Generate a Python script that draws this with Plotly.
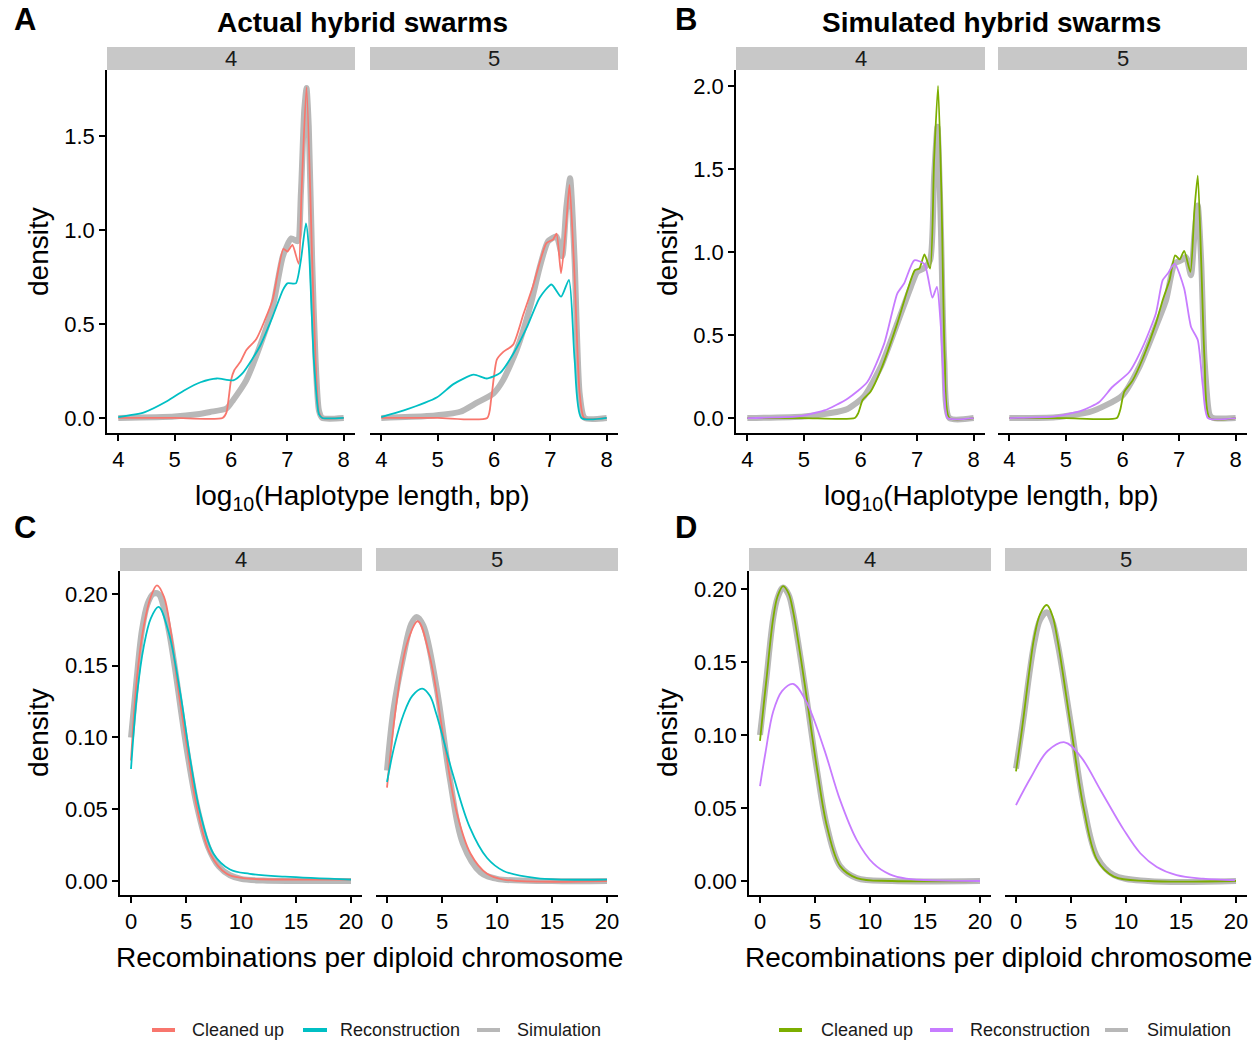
import plotly.graph_objects as go

W, H = 1255, 1042
FONT = "Liberation Sans, Arial, Helvetica, sans-serif"
RED, CYAN, GREEN, PURPLE, GREY = "#F8766D", "#00BFC4", "#7CAE00", "#C77CFF", "#b8b8b8"

# ---------------- Data: panel A (actual, haplotype length) ----------------
A4_sim_x = [4.0, 5.0, 5.4, 5.63, 5.92, 6.04, 6.27, 6.51, 6.74, 6.92, 7.07, 7.18, 7.24, 7.30, 7.34, 7.38, 7.44, 7.50, 7.56, 7.62, 8.0]
A4_sim_y = [0.0, 0.008, 0.02, 0.032, 0.05, 0.096, 0.20, 0.38, 0.59, 0.86, 0.955, 0.94, 1.195, 1.64, 1.755, 1.55, 0.84, 0.31, 0.04, 0.0, 0.0]
A4_clean_x = [4.0, 5.0, 5.85, 5.92, 6.0, 6.06, 6.17, 6.27, 6.45, 6.6, 6.74, 6.93, 7.0, 7.09, 7.2, 7.25, 7.34, 7.44, 7.5, 7.56, 7.62, 8.0]
A4_clean_y = [0.0, 0.0, 0.0, 0.03, 0.2, 0.255, 0.30, 0.36, 0.42, 0.52, 0.63, 0.90, 0.885, 0.92, 0.82, 1.19, 1.76, 0.84, 0.3, 0.03, 0.0, 0.0]
A4_recon_x = [4.0, 4.46, 4.87, 5.16, 5.46, 5.75, 6.04, 6.21, 6.51, 6.74, 6.92, 7.0, 7.15, 7.24, 7.33, 7.38, 7.47, 7.56, 7.62, 8.0]
A4_recon_y = [0.005, 0.03, 0.09, 0.145, 0.19, 0.21, 0.20, 0.24, 0.38, 0.54, 0.68, 0.716, 0.716, 0.84, 1.035, 0.91, 0.31, 0.02, 0.0, 0.0]

A5_sim_x = [4.0, 4.81, 5.4, 5.69, 5.99, 6.16, 6.4, 6.64, 6.81, 6.96, 7.11, 7.21, 7.28, 7.35, 7.43, 7.52, 7.61, 8.0]
A5_sim_y = [0.0, 0.01, 0.033, 0.08, 0.13, 0.20, 0.36, 0.59, 0.80, 0.94, 0.965, 0.86, 1.11, 1.275, 0.84, 0.13, 0.0, 0.0]
A5_clean_x = [4.0, 5.0, 5.88, 5.95, 6.05, 6.16, 6.34, 6.52, 6.69, 6.93, 7.05, 7.11, 7.19, 7.28, 7.34, 7.43, 7.52, 7.6, 8.0]
A5_clean_y = [0.0, 0.0, 0.0, 0.1, 0.31, 0.35, 0.39, 0.55, 0.70, 0.93, 0.95, 0.98, 0.77, 1.03, 1.24, 0.75, 0.13, 0.0, 0.0]
A5_recon_x = [4.0, 4.4, 4.99, 5.28, 5.64, 5.87, 6.11, 6.34, 6.58, 6.81, 7.02, 7.19, 7.33, 7.43, 7.55, 8.0]
A5_recon_y = [0.005, 0.04, 0.11, 0.18, 0.23, 0.21, 0.24, 0.34, 0.48, 0.64, 0.71, 0.645, 0.735, 0.31, 0.0, 0.0]

# ---------------- Data: panel B (simulated, haplotype length) ----------------
B4_sim_x = [4.0, 5.0, 5.47, 5.77, 6.06, 6.36, 6.65, 6.89, 7.0, 7.11, 7.23, 7.30, 7.36, 7.42, 7.48, 7.57, 8.0]
B4_sim_y = [0.0, 0.01, 0.03, 0.055, 0.13, 0.31, 0.57, 0.79, 0.88, 0.90, 0.95, 1.45, 1.755, 1.15, 0.35, 0.0, 0.0]
B4_clean_x = [4.0, 5.0, 5.9, 5.96, 6.04, 6.18, 6.36, 6.65, 6.83, 6.96, 7.04, 7.13, 7.23, 7.30, 7.37, 7.43, 7.49, 7.57, 8.0]
B4_clean_y = [0.0, 0.0, 0.0, 0.03, 0.11, 0.16, 0.29, 0.57, 0.77, 0.89, 0.90, 0.985, 0.90, 1.55, 2.0, 1.35, 0.35, 0.0, 0.0]
B4_recon_x = [4.0, 4.88, 5.36, 5.77, 6.12, 6.42, 6.65, 6.77, 6.95, 7.13, 7.27, 7.35, 7.42, 7.48, 7.54, 8.0]
B4_recon_y = [0.0, 0.01, 0.046, 0.117, 0.217, 0.45, 0.75, 0.81, 0.95, 0.927, 0.725, 0.79, 0.55, 0.15, 0.0, 0.0]

B5_sim_x = [4.0, 4.82, 5.41, 5.7, 6.0, 6.3, 6.59, 6.77, 6.92, 7.04, 7.12, 7.21, 7.27, 7.33, 7.39, 7.45, 7.54, 7.6, 8.0]
B5_sim_y = [0.0, 0.005, 0.036, 0.076, 0.137, 0.31, 0.55, 0.71, 0.93, 0.95, 0.97, 0.86, 1.1, 1.28, 0.95, 0.35, 0.02, 0.0, 0.0]
B5_clean_x = [4.0, 5.0, 5.9, 5.96, 6.03, 6.18, 6.36, 6.59, 6.71, 6.83, 6.93, 7.01, 7.09, 7.20, 7.27, 7.33, 7.39, 7.45, 7.54, 8.0]
B5_clean_y = [0.0, 0.0, 0.0, 0.05, 0.157, 0.227, 0.36, 0.57, 0.71, 0.83, 0.98, 0.955, 1.007, 0.88, 1.25, 1.46, 0.95, 0.35, 0.0, 0.0]
B5_recon_x = [4.0, 4.82, 5.29, 5.59, 5.82, 6.12, 6.36, 6.59, 6.71, 6.8, 6.92, 7.09, 7.21, 7.33, 7.42, 7.51, 8.0]
B5_recon_y = [0.0, 0.01, 0.046, 0.097, 0.187, 0.277, 0.43, 0.63, 0.83, 0.87, 0.93, 0.78, 0.55, 0.47, 0.19, 0.0, 0.0]

# ---------------- Data: panel C (actual, recombinations) ----------------
C4_sim_x = [0, 0.5, 1.0, 1.5, 2.0, 2.5, 3.0, 3.5, 4.0, 5.0, 6.0, 7.0, 8.0, 9.0, 10.0, 12.0, 15.0, 20.0]
C4_sim_y = [0.10, 0.14, 0.175, 0.193, 0.20, 0.20, 0.19, 0.172, 0.148, 0.095, 0.052, 0.024, 0.01, 0.004, 0.0015, 0.0003, 0.0, 0.0]
C4_clean_x = [0, 0.55, 1.15, 1.8, 2.36, 3.0, 3.6, 4.18, 5.1, 6.0, 7.2, 8.7, 10.2, 15.0, 20.0]
C4_clean_y = [0.084, 0.142, 0.177, 0.198, 0.206, 0.198, 0.175, 0.14, 0.093, 0.051, 0.019, 0.005, 0.002, 0.001, 0.001]
C4_recon_x = [0, 0.55, 1.15, 1.8, 2.5, 3.4, 4.5, 5.4, 6.3, 7.5, 9.0, 10.8, 14.0, 20.0]
C4_recon_y = [0.078, 0.13, 0.163, 0.183, 0.191, 0.174, 0.13, 0.084, 0.047, 0.019, 0.008, 0.005, 0.003, 0.001]

C5_sim_x = [0, 0.6, 1.5, 2.2, 2.7, 3.3, 4.5, 5.7, 6.9, 8.5, 10.0, 15.0, 20.0]
C5_sim_y = [0.077, 0.12, 0.157, 0.179, 0.184, 0.178, 0.135, 0.072, 0.026, 0.006, 0.0015, 0.0, 0.0]
C5_clean_x = [0, 0.9, 1.8, 2.8, 3.9, 5.1, 6.3, 7.6, 9.1, 10.6, 20.0]
C5_clean_y = [0.065, 0.126, 0.165, 0.181, 0.156, 0.102, 0.049, 0.019, 0.005, 0.001, 0.0]
C5_recon_x = [0, 0.7, 1.5, 2.3, 3.2, 3.9, 4.5, 6.0, 7.55, 9.1, 10.6, 13.6, 20.0]
C5_recon_y = [0.069, 0.095, 0.116, 0.129, 0.134, 0.129, 0.116, 0.074, 0.037, 0.016, 0.007, 0.002, 0.001]

# ---------------- Data: panel D (simulated, recombinations) ----------------
D4_sim_x = [0, 0.3, 0.6, 1.2, 1.6, 2.1, 2.6, 3.0, 3.6, 4.2, 5.2, 6.1, 7.3, 8.8, 12.0, 20.0]
D4_sim_y = [0.10, 0.12, 0.14, 0.18, 0.194, 0.201, 0.196, 0.184, 0.157, 0.127, 0.075, 0.037, 0.01, 0.002, 0.0, 0.0]
D4_clean_x = [0, 0.3, 0.6, 1.2, 1.6, 2.1, 2.6, 3.0, 3.6, 4.2, 5.2, 6.1, 7.3, 8.8, 12.0, 20.0]
D4_clean_y = [0.096, 0.118, 0.139, 0.18, 0.195, 0.202, 0.197, 0.185, 0.158, 0.128, 0.076, 0.037, 0.01, 0.002, 0.0, 0.0]
D4_recon_x = [0, 0.5, 1.2, 2.0, 3.0, 4.2, 5.8, 7.3, 8.8, 10.3, 11.8, 13.3, 20.0]
D4_recon_y = [0.065, 0.088, 0.116, 0.130, 0.135, 0.123, 0.091, 0.055, 0.028, 0.012, 0.0045, 0.0016, 0.0]

D5_sim_x = [0, 0.4, 0.75, 1.2, 1.66, 2.2, 2.8, 3.3, 3.8, 5.0, 6.2, 7.4, 8.9, 12.0, 20.0]
D5_sim_y = [0.077, 0.097, 0.115, 0.141, 0.163, 0.179, 0.184, 0.178, 0.162, 0.107, 0.05, 0.016, 0.004, 0.0, 0.0]
D5_clean_x = [0, 0.4, 0.75, 1.2, 1.66, 2.2, 2.8, 3.3, 3.8, 5.0, 6.2, 7.4, 8.9, 12.0, 20.0]
D5_clean_y = [0.075, 0.096, 0.116, 0.143, 0.167, 0.183, 0.189, 0.182, 0.164, 0.105, 0.048, 0.014, 0.003, 0.0, 0.0]
D5_recon_x = [0, 1.36, 2.87, 4.43, 5.9, 7.7, 9.8, 11.3, 12.8, 14.6, 17.0, 19.9]
D5_recon_y = [0.052, 0.071, 0.089, 0.095, 0.085, 0.062, 0.035, 0.019, 0.0096, 0.004, 0.0016, 0.0005]

facet_labels = ["4", "5"]
legend_labels = ["Cleaned up", "Reconstruction", "Simulation"]
hap_ticks = [4, 5, 6, 7, 8]
rec_ticks = [0, 5, 10, 15, 20]
A_yticks = [0.0, 0.5, 1.0, 1.5]
B_yticks = [0.0, 0.5, 1.0, 1.5, 2.0]
CD_yticks = [0.0, 0.05, 0.10, 0.15, 0.20]

# ---------------- Layout geometry (pixels) ----------------
facets = [
    (107, 355, 70, 433, [3.8, 8.2], [-0.08, 1.851], hap_ticks, A_yticks, "{:.1f}", True,
     (A4_sim_x, A4_sim_y, A4_clean_x, A4_clean_y, A4_recon_x, A4_recon_y), (RED, CYAN), 0.6),
    (370, 618, 70, 433, [3.8, 8.2], [-0.08, 1.851], hap_ticks, A_yticks, "{:.1f}", False,
     (A5_sim_x, A5_sim_y, A5_clean_x, A5_clean_y, A5_recon_x, A5_recon_y), (RED, CYAN), 0.6),
    (736, 985, 70, 433, [3.8, 8.2], [-0.09, 2.096], hap_ticks, B_yticks, "{:.1f}", True,
     (B4_sim_x, B4_sim_y, B4_clean_x, B4_clean_y, B4_recon_x, B4_recon_y), (GREEN, PURPLE), 0.6),
    (998, 1247, 70, 433, [3.8, 8.2], [-0.09, 2.096], hap_ticks, B_yticks, "{:.1f}", False,
     (B5_sim_x, B5_sim_y, B5_clean_x, B5_clean_y, B5_recon_x, B5_recon_y), (GREEN, PURPLE), 0.6),
    (120, 362, 571, 895, [-1, 21], [-0.00976, 0.216], rec_ticks, CD_yticks, "{:.2f}", True,
     (C4_sim_x, C4_sim_y, C4_clean_x, C4_clean_y, C4_recon_x, C4_recon_y), (RED, CYAN), 1.0),
    (376, 618, 571, 895, [-1, 21], [-0.00976, 0.216], rec_ticks, CD_yticks, "{:.2f}", False,
     (C5_sim_x, C5_sim_y, C5_clean_x, C5_clean_y, C5_recon_x, C5_recon_y), (RED, CYAN), 1.0),
    (749, 991, 571, 895, [-1, 21], [-0.0096, 0.2123], rec_ticks, CD_yticks, "{:.2f}", True,
     (D4_sim_x, D4_sim_y, D4_clean_x, D4_clean_y, D4_recon_x, D4_recon_y), (GREEN, PURPLE), 1.0),
    (1005, 1247, 571, 895, [-1, 21], [-0.0096, 0.2123], rec_ticks, CD_yticks, "{:.2f}", False,
     (D5_sim_x, D5_sim_y, D5_clean_x, D5_clean_y, D5_recon_x, D5_recon_y), (GREEN, PURPLE), 1.0),
]

def px(x):
    return x / W

def py(y):
    return 1 - y / H

fig = go.Figure()
layout = dict(
    width=W, height=H, margin=dict(l=0, r=0, t=0, b=0),
    paper_bgcolor="white", plot_bgcolor="white", showlegend=False,
    font=dict(family=FONT, color="black"),
)
shapes, annotations = [], []

for i, (x0, x1, y0, y1, xr, yr, xt, yt, yfmt, first, data, cols, smooth) in enumerate(facets):
    n = i + 1
    xa = "x" if n == 1 else f"x{n}"
    ya = "y" if n == 1 else f"y{n}"
    sx, sy, cx, cy, rx, ry = data
    fig.add_trace(go.Scatter(x=sx, y=sy, mode="lines", xaxis=xa, yaxis=ya,
                             line=dict(color=GREY, width=6, shape="spline", smoothing=smooth),
                             name="Simulation", hoverinfo="skip"))
    fig.add_trace(go.Scatter(x=cx, y=cy, mode="lines", xaxis=xa, yaxis=ya,
                             line=dict(color=cols[0], width=1.8, shape="spline", smoothing=smooth),
                             name="Cleaned up"))
    fig.add_trace(go.Scatter(x=rx, y=ry, mode="lines", xaxis=xa, yaxis=ya,
                             line=dict(color=cols[1], width=1.8, shape="spline", smoothing=smooth),
                             name="Reconstruction"))
    layout["xaxis" if n == 1 else f"xaxis{n}"] = dict(
        domain=[px(x0), px(x1)], anchor=ya, range=xr,
        showline=True, linecolor="black", linewidth=1.6,
        ticks="outside", ticklen=6, tickwidth=1.6, tickcolor="black",
        tickvals=xt, ticktext=[str(v) for v in xt],
        tickfont=dict(size=22, color="black", family=FONT),
        showgrid=False, zeroline=False,
    )
    layout["yaxis" if n == 1 else f"yaxis{n}"] = dict(
        domain=[py(y1), py(y0)], anchor=xa, range=yr,
        showline=first, linecolor="black", linewidth=1.6,
        ticks="outside" if first else "", ticklen=6, tickwidth=1.6, tickcolor="black",
        tickvals=yt, ticktext=[yfmt.format(v) for v in yt], showticklabels=first,
        tickfont=dict(size=22, color="black", family=FONT),
        showgrid=False, zeroline=False,
    )
    sy0, sy1 = y0 - 23, y0
    shapes.append(dict(type="rect", xref="paper", yref="paper",
                       x0=px(x0), x1=px(x1), y0=py(sy1), y1=py(sy0),
                       fillcolor="#c8c8c8", line=dict(width=0), layer="below"))
    annotations.append(dict(text=facet_labels[i % 2], xref="paper", yref="paper",
                            x=px((x0 + x1) / 2), y=py((sy0 + sy1) / 2),
                            xanchor="center", yanchor="middle", showarrow=False,
                            font=dict(size=22, color="#1a1a1a", family=FONT)))

def ann(text, x, y, size, angle=0, bold=False):
    annotations.append(dict(text=f"<b>{text}</b>" if bold else text,
                            xref="paper", yref="paper", x=px(x), y=py(y),
                            xanchor="center", yanchor="middle", showarrow=False,
                            textangle=angle, font=dict(size=size, color="black", family=FONT)))

ann("A", 25, 20, 31, bold=True)
ann("B", 686, 20, 31, bold=True)
ann("C", 25, 527, 31, bold=True)
ann("D", 686, 527, 31, bold=True)
ann("Actual hybrid swarms", 362, 22, 28, bold=True)
ann("Simulated hybrid swarms", 991, 22, 28, bold=True)

for yc in (252, 733):
    ann("density", 38, yc, 28, angle=-90)
    ann("density", 667, yc, 28, angle=-90)
ann("log<sub>10</sub>(Haplotype length, bp)", 362, 497, 28)
ann("log<sub>10</sub>(Haplotype length, bp)", 991, 497, 28)
ann("Recombinations per diploid chromosome", 369, 957, 28)
ann("Recombinations per diploid chromosome", 998, 957, 28)

legend_rows = [
    ([(152, 175, 190), (303, 327, 338), (477, 500, 515)], (RED, CYAN, GREY)),
    ([(779, 802, 819), (930, 953, 968), (1105, 1128, 1145)], (GREEN, PURPLE, GREY)),
]
ly = 1030
for items, cols in legend_rows:
    for (lx0, lx1, tx), col, lab in zip(items, cols, legend_labels):
        shapes.append(dict(type="line", xref="paper", yref="paper",
                           x0=px(lx0), x1=px(lx1), y0=py(ly), y1=py(ly),
                           line=dict(color=col, width=4)))
        annotations.append(dict(text=lab, xref="paper", yref="paper",
                                x=px(tx), y=py(ly), xanchor="left", yanchor="middle",
                                showarrow=False, font=dict(size=18, color="#1a1a1a", family=FONT)))

layout["shapes"] = shapes
layout["annotations"] = annotations
fig.update_layout(**layout)
fig.write_html("out.html")
